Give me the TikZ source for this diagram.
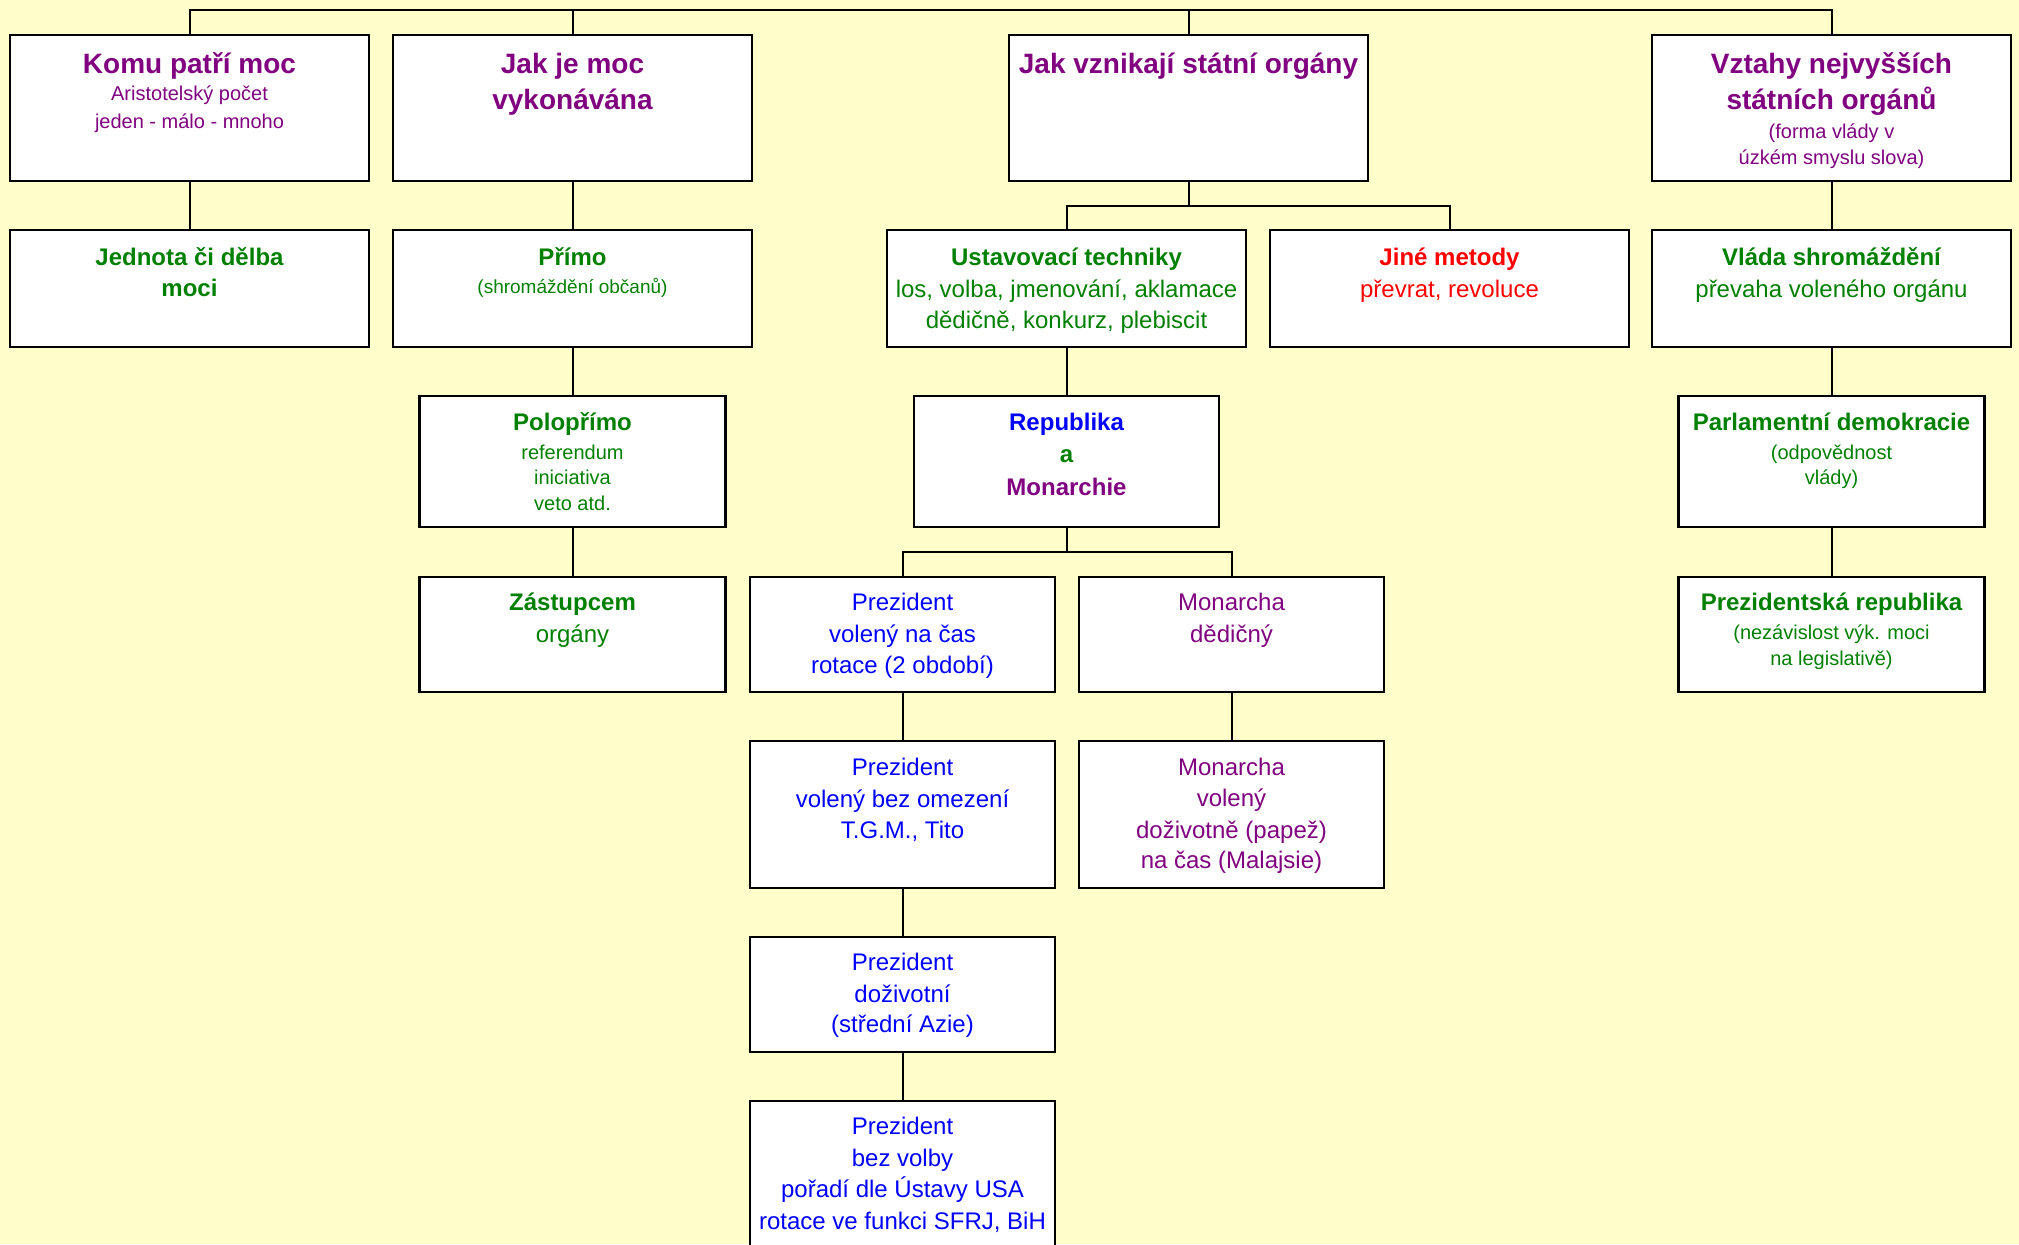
\documentclass[tikz,border=0pt]{standalone}
\usepackage{fontspec}
\setmainfont{Liberation Sans}
\definecolor{cpurple}{HTML}{800080}
\definecolor{cgreen}{HTML}{008000}
\definecolor{cred}{HTML}{FF0000}
\definecolor{cblue}{HTML}{0000FF}
\definecolor{bgyellow}{HTML}{FFFFCC}
\newdimen\pxu \pxu=0.5pt
\newcommand\Ln[2]{\hbox to \hsize{\hss\rule{0pt}{#1\pxu}\smash{#2}\hss}}
\newcommand\Bx[3]{\vbox to #2\pxu{\hsize=#1\pxu \offinterlineskip #3\vss}}
\newcommand\fTitle{\fontsize{14}{16}\selectfont\bfseries}
\newcommand\fBold{\fontsize{12}{14}\selectfont\bfseries}
\newcommand\fReg{\fontsize{12}{14}\selectfont}
\newcommand\fSmall{\fontsize{10}{12}\selectfont}
\newcommand\fTiny{\fontsize{9.5}{11}\selectfont}
\tikzset{
  bx/.style={draw=black, fill=white, line width=1.1pt, inner sep=0pt, outer sep=0pt, anchor=north west},
  conn/.style={draw=black, line width=1pt}
}
\begin{document}
\begin{tikzpicture}[x=0.5pt, y=-0.5pt]
\path[clip] (0,0) rectangle (2019,1244);
\fill[bgyellow] (0,0) rectangle (2019,1244);
% row 1
\node[bx, text=cpurple] (b1) at (10,35) {\Bx{359}{146}{\Ln{38}{\fTitle Komu patří moc}\Ln{27}{\fSmall Aristotelský počet}\Ln{28}{\fSmall jeden - málo - mnoho}}};
\node[bx, text=cpurple] (b2) at (393,35) {\Bx{359}{146}{\Ln{38}{\fTitle Jak je moc}\Ln{36}{\fTitle vykonávána}}};
\node[bx, text=cpurple] (b3) at (1009,35) {\Bx{359}{146}{\Ln{38}{\fTitle Jak vznikají státní orgány}}};
\node[bx, text=cpurple] (b4) at (1652,35) {\Bx{359}{146}{\Ln{38}{\fTitle Vztahy nejvyšších}\Ln{36}{\fTitle státních orgánů}\Ln{29}{\fSmall (forma vlády v}\Ln{26}{\fSmall úzkém smyslu slova)}}};
% row 2
\node[bx, text=cgreen] (jed) at (10,230) {\Bx{359}{117}{\Ln{35}{\fBold Jednota či dělba}\Ln{31}{\fBold moci}}};
\node[bx, text=cgreen] (pri) at (393,230) {\Bx{359}{117}{\Ln{35}{\fBold Přímo}\Ln{28}{\fTiny (shromáždění občanů)}}};
\node[bx, text=cgreen] (ust) at (887,230) {\Bx{359}{117}{\Ln{35}{\fBold Ustavovací techniky}\Ln{32}{\fReg los, volba, jmenování, aklamace}\Ln{31}{\fReg dědičně, konkurz, plebiscit}}};
\node[bx, text=cred] (jine) at (1270,230) {\Bx{359}{117}{\Ln{35}{\fBold Jiné metody}\Ln{32}{\fReg převrat, revoluce}}};
\node[bx, text=cgreen] (vla) at (1652,230) {\Bx{359}{117}{\Ln{35}{\fBold Vláda shromáždění}\Ln{32}{\fReg převaha voleného orgánu}}};
% row 3
\node[bx, text=cgreen] (pol) at (419.5,396) {\Bx{306}{131}{\Ln{34}{\fBold Polopřímo}\Ln{29}{\fSmall referendum}\Ln{25}{\fSmall iniciativa}\Ln{26}{\fSmall veto atd.}}};
\node[bx] (rep) at (914,396) {\Bx{305}{131}{\Ln{34}{\fBold\color{cblue}Republika}\Ln{32}{\fBold\color{cgreen}a}\Ln{33}{\fBold\color{cpurple}Monarchie}}};
\node[bx, text=cgreen] (par) at (1678.5,396) {\Bx{306}{131}{\Ln{34}{\fBold Parlamentní demokracie}\Ln{29}{\fSmall (odpovědnost}\Ln{25}{\fSmall vlády)}}};
% row 4
\node[bx, text=cgreen] (zas) at (419.5,577) {\Bx{306}{115}{\Ln{33}{\fBold Zástupcem}\Ln{32}{\fReg orgány}}};
\node[bx, text=cblue] (p1) at (750,577) {\Bx{305}{115}{\Ln{33}{\fReg Prezident}\Ln{32}{\fReg volený na čas}\Ln{31}{\fReg rotace (2 období)}}};
\node[bx, text=cpurple] (md) at (1079,577) {\Bx{305}{115}{\Ln{33}{\fReg Monarcha}\Ln{32}{\fReg dědičný}}};
\node[bx, text=cgreen] (prr) at (1678.5,577) {\Bx{306}{115}{\Ln{33}{\fBold Prezidentská republika}\Ln{29}{\fSmall (nezávislost výk. moci}\Ln{26}{\fSmall na legislativě)}}};
% row 5
\node[bx, text=cblue] (p2) at (750,741) {\Bx{305}{147}{\Ln{34}{\fReg Prezident}\Ln{32}{\fReg volený bez omezení}\Ln{31}{\fReg T.G.M., Tito}}};
\node[bx, text=cpurple] (mv) at (1079,741) {\Bx{305}{147}{\Ln{34}{\fReg Monarcha}\Ln{31}{\fReg volený}\Ln{32}{\fReg doživotně (papež)}\Ln{30}{\fReg na čas (Malajsie)}}};
% row 6
\node[bx, text=cblue] (p3) at (750,937) {\Bx{305}{115}{\Ln{33.5}{\fReg Prezident}\Ln{31.5}{\fReg doživotní}\Ln{30}{\fReg (střední Azie)}}};
% row 7
\node[bx, text=cblue] (p4) at (750,1101) {\Bx{305}{170}{\Ln{33}{\fReg Prezident}\Ln{32}{\fReg bez volby}\Ln{31.5}{\fReg pořadí dle Ústavy USA}\Ln{31.5}{\fReg rotace ve funkci SFRJ, BiH}}};
% connectors
\coordinate (topbus) at (1188.5,10);
\coordinate (j2) at (1188.5,206);
\coordinate (j3) at (1066.5,552);
\draw[conn] (b1.north) |- (topbus) -| (b4.north);
\draw[conn] (b2.north) -- (b2.north |- topbus);
\draw[conn] (b3.north) -- (topbus);
\draw[conn] (b1.south) -- (jed.north);
\draw[conn] (b2.south) -- (pri.north);
\draw[conn] (pri.south) -- (pol.north);
\draw[conn] (pol.south) -- (zas.north);
\draw[conn] (b3.south) -- (j2);
\draw[conn] (ust.north) |- (j2) -| (jine.north);
\draw[conn] (ust.south) -- (rep.north);
\draw[conn] (rep.south) -- (j3);
\draw[conn] (p1.north) |- (j3) -| (md.north);
\draw[conn] (p1.south) -- (p2.north);
\draw[conn] (p2.south) -- (p3.north);
\draw[conn] (p3.south) -- (p4.north);
\draw[conn] (md.south) -- (mv.north);
\draw[conn] (b4.south) -- (vla.north);
\draw[conn] (vla.south) -- (par.north);
\draw[conn] (par.south) -- (prr.north);
\end{tikzpicture}
\end{document}
